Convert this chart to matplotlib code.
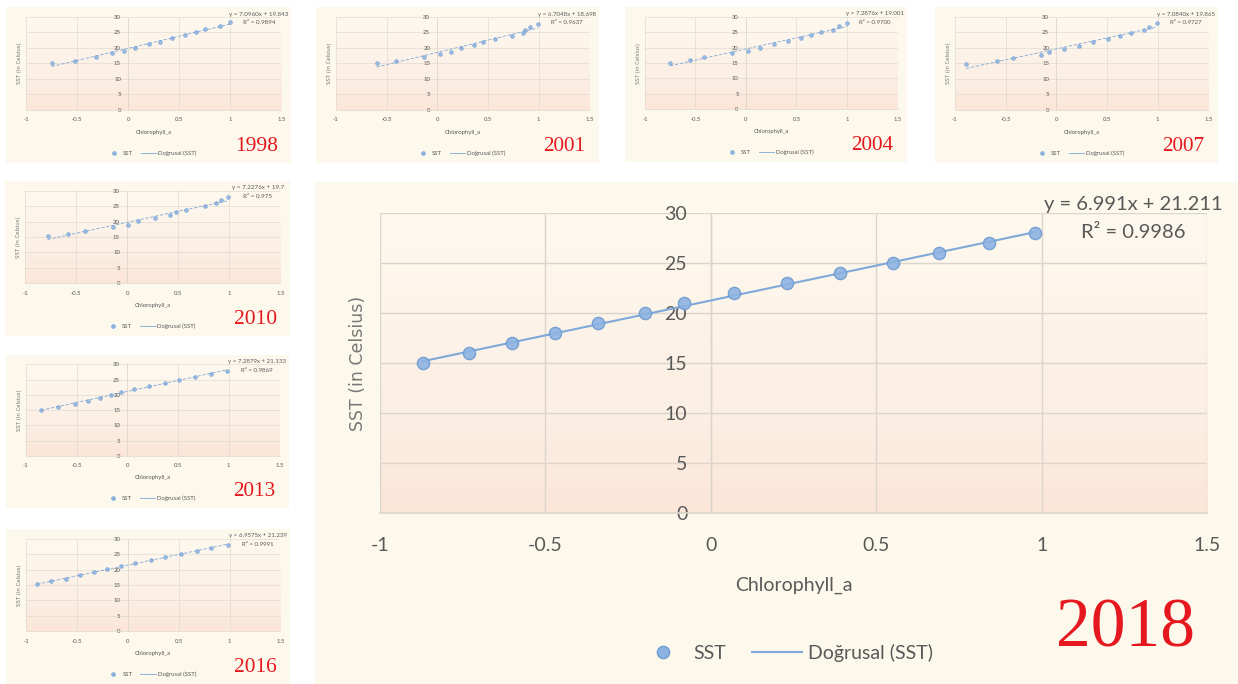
#!/usr/bin/env python3
"""SST vs Chlorophyll_a scatter panels with linear trendlines, 1998-2018."""

import numpy as np
import matplotlib
matplotlib.use("Agg")
import matplotlib.pyplot as plt
from matplotlib.colors import LinearSegmentedColormap
from matplotlib.lines import Line2D

plt.rcParams["font.family"] = ["Lato", "DejaVu Sans"]

# --- data ---------------------------------------------------------------
years = ["1998", "2001", "2004", "2007", "2010", "2013", "2016", "2018"]

x_1998 = [-0.75, -0.52, -0.32, -0.16, -0.04, 0.07, 0.20, 0.31, 0.43, 0.56, 0.66, 0.75, 0.90, 1.00]
y_1998 = [15.2, 15.8, 17.0, 18.2, 18.9, 20.0, 21.2, 22.0, 23.0, 24.1, 25.0, 26.0, 27.1, 28.2]

x_2001 = [-0.60, -0.41, -0.13, 0.03, 0.13, 0.23, 0.36, 0.45, 0.57, 0.74, 0.84, 0.86, 0.91, 0.99]
y_2001 = [15.2, 15.9, 17.1, 17.9, 18.7, 19.8, 20.8, 21.8, 22.7, 23.8, 24.7, 25.6, 26.7, 27.8]

x_2004 = [-0.75, -0.55, -0.42, -0.14, 0.02, 0.14, 0.28, 0.42, 0.54, 0.64, 0.74, 0.86, 0.92, 1.00]
y_2004 = [15.0, 15.9, 16.8, 18.1, 19.0, 19.9, 21.1, 22.0, 23.0, 24.0, 24.9, 25.8, 26.8, 28.0]

x_2007 = [-0.89, -0.59, -0.43, -0.15, -0.07, 0.08, 0.22, 0.36, 0.51, 0.63, 0.74, 0.86, 0.91, 0.99]
y_2007 = [14.8, 15.6, 16.6, 17.8, 18.5, 19.7, 20.7, 21.8, 22.8, 23.9, 24.8, 25.7, 26.8, 27.9]

x_2010 = [-0.78, -0.58, -0.41, -0.14, 0.01, 0.11, 0.27, 0.42, 0.48, 0.58, 0.76, 0.87, 0.92, 0.99]
y_2010 = [15.2, 16.0, 16.9, 18.2, 19.0, 20.3, 21.0, 22.1, 23.2, 23.8, 25.0, 25.9, 26.8, 27.9]

x_2013 = [-0.85, -0.68, -0.52, -0.39, -0.27, -0.16, -0.06, 0.07, 0.21, 0.37, 0.51, 0.67, 0.82, 0.98]
y_2013 = [15.2, 16.1, 17.1, 18.1, 19.1, 20.0, 21.0, 22.0, 22.9, 23.9, 25.0, 25.9, 27.0, 28.0]

x_2016 = [-0.89, -0.75, -0.61, -0.47, -0.33, -0.20, -0.07, 0.07, 0.23, 0.37, 0.52, 0.68, 0.82, 0.98]
y_2016 = [15.2, 16.2, 17.0, 18.1, 19.1, 20.1, 21.1, 22.1, 23.1, 24.0, 25.1, 26.0, 27.1, 28.0]

x_2018 = [-0.87, -0.73, -0.60, -0.47, -0.34, -0.20, -0.08, 0.07, 0.23, 0.39, 0.55, 0.69, 0.84, 0.98]
y_2018 = [15, 16, 17, 18, 19, 20, 21, 22, 23, 24, 25, 26, 27, 28]

equations = [
    "y = 7.0960x + 19.843", "y = 6.7048x + 18.698", "y = 7.2876x + 19.001",
    "y = 7.0840x + 19.865", "y = 7.2276x + 19.7", "y = 7.2879x + 21.133",
    "y = 6.9575x + 21.239", "y = 6.991x + 21.211",
]
r_squared = ["R² = 0.9894", "R² = 0.9637", "R² = 0.9700", "R² = 0.9727",
             "R² = 0.975", "R² = 0.9869", "R² = 0.9991", "R² = 0.9986"]

x_ticks = [-1, -0.5, 0, 0.5, 1, 1.5]
x_tick_labels = ["-1", "-0.5", "0", "0.5", "1", "1.5"]
y_ticks = [0, 5, 10, 15, 20, 25, 30]

# card boxes in pixels: left, top, width, height
CARDS = [
    (6, 7, 285, 156), (316, 7, 283, 156), (625, 7, 282, 155), (935, 7, 283, 156),
    (5, 181, 285, 155), (6, 355, 283, 153), (6, 529, 284, 155), (315, 182, 923, 502),
]

W, H = 1238, 684
CARD_BG = "#FDF8EC"
GRID = "#DCD5CB"
TEXT = "#595959"
POINT = "#8DB3E2"
POINT_EDGE = "#6E9BD1"
TREND = "#7EA9D9"
YEAR_RED = "#E5171F"

GRADIENT = LinearSegmentedColormap.from_list(
    "plotarea", [(0.0, "#FBE6D8"), (0.35, "#FCEFE4"), (1.0, "#FEF9EF")]
)


def fig_rect(left, top, width, height):
    return [left / W, 1 - (top + height) / H, width / W, height / H]


def draw_card(fig, box, year, xs, ys, eq, r2):
    x0, y0, w, h = box
    s = w / 923

    card = fig.add_axes(fig_rect(x0, y0, w, h))
    card.set_facecolor(CARD_BG)
    card.set_xlim(0, 1)
    card.set_ylim(0, 1)
    card.set_xticks([])
    card.set_yticks([])
    for sp in card.spines.values():
        sp.set_visible(False)

    ax = fig.add_axes(fig_rect(x0 + 0.0705 * w, y0 + 0.062 * h, 0.896 * w, 0.598 * h))
    ax.set_facecolor("none")
    ax.set_xlim(-1, 1.5)
    ax.set_ylim(0, 30)
    grad = np.linspace(0, 1, 256).reshape(-1, 1)
    ax.imshow(grad, cmap=GRADIENT, origin="lower", extent=[-1, 1.5, 0, 30],
              aspect="auto", zorder=0)

    ax.set_xticks(x_ticks)
    ax.set_xticklabels(x_tick_labels)
    ax.set_yticks(y_ticks)
    ax.set_axisbelow(True)
    ax.grid(True, color=GRID, linewidth=max(1.0 * s, 0.4))
    ax.spines["left"].set_position(("data", 0))
    ax.spines["left"].set_color(GRID)
    ax.spines["bottom"].set_color(GRID)
    ax.spines["left"].set_linewidth(max(1.0 * s, 0.4))
    ax.spines["bottom"].set_linewidth(max(1.2 * s, 0.5))
    ax.spines["top"].set_visible(False)
    ax.spines["right"].set_visible(False)
    ax.tick_params(axis="x", length=0, pad=17 * s, labelsize=14 * s, colors=TEXT)
    ax.tick_params(axis="y", length=0, pad=17 * s, labelsize=14 * s, colors=TEXT)

    slope, intercept = np.polyfit(xs, ys, 1)
    line_x = np.array([min(xs), max(xs)])
    dash = "-" if s > 0.5 else (0, (4, 2))
    ax.plot(line_x, slope * line_x + intercept, color=TREND, lw=max(1.5 * s, 0.6),
            linestyle=dash, zorder=3)
    ax.plot(xs, ys, linestyle="none", marker="o", ms=8.8 * s, mfc=POINT,
            mec=POINT_EDGE, mew=max(1.0 * s, 0.4), alpha=0.9, zorder=4)

    ax.text(-0.027, 0.5, "SST (in Celsius)", rotation=90, ha="center", va="center",
            transform=ax.transAxes, fontsize=12.5 * s, color="#777777",
            family="DejaVu Sans")
    ax.text(0.5, -0.24, "Chlorophyll_a", ha="center", va="center",
            transform=ax.transAxes, fontsize=14 * s, color=TEXT)

    handles = [
        Line2D([], [], linestyle="none", marker="o", ms=8.8 * s, mfc=POINT,
               mec=POINT_EDGE, mew=max(1.0 * s, 0.4)),
        Line2D([], [], color=TREND, lw=max(1.5 * s, 0.6)),
    ]
    ax.legend(handles, ["SST", "Doğrusal (SST)"], loc="center",
              bbox_to_anchor=(0.49, -0.465), ncol=2, frameon=False,
              fontsize=14 * s, handlelength=2.6, handletextpad=0.3,
              columnspacing=1.3, labelcolor=TEXT)

    # equation block sits over the plot area, so draw it on the plot axes
    ax.text(0.887, 0.955, eq, ha="center", va="center", fontsize=14.5 * s,
            color=TEXT, transform=card.transAxes, clip_on=False, zorder=6)
    ax.text(0.887, 0.900, r2, ha="center", va="center", fontsize=14.5 * s,
            color=TEXT, transform=card.transAxes, clip_on=False, zorder=6)
    card.text(0.878, 0.108, year, ha="center", va="center", fontsize=50 * s,
              color=YEAR_RED, family="Liberation Serif")


def main() -> None:
    fig = plt.figure(figsize=(W / 100, H / 100), dpi=100)
    fig.patch.set_facecolor("white")

    series = [
        (x_1998, y_1998), (x_2001, y_2001), (x_2004, y_2004), (x_2007, y_2007),
        (x_2010, y_2010), (x_2013, y_2013), (x_2016, y_2016), (x_2018, y_2018),
    ]
    for box, year, (xs, ys), eq, r2 in zip(CARDS, years, series, equations, r_squared):
        draw_card(fig, box, year, xs, ys, eq, r2)

    fig.savefig("out.png", dpi=100, facecolor="white")


if __name__ == "__main__":
    main()
